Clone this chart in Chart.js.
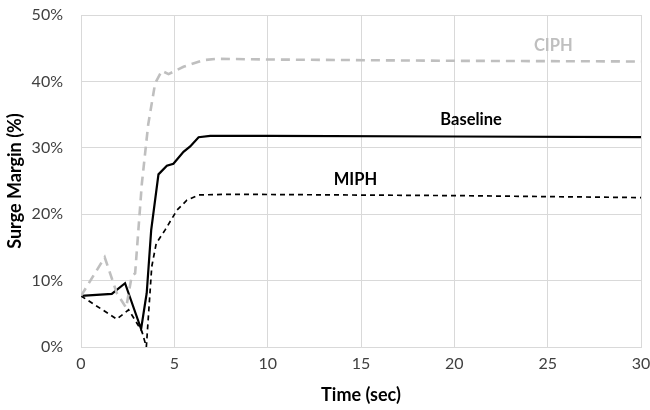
<!DOCTYPE html>
<html>
<head>
<meta charset="utf-8">
<script src="https://cdn.jsdelivr.net/npm/chart.js@4"></script>
<style>
  html, body { margin: 0; padding: 0; background: #fff; }
  #wrap { width: 650px; height: 410px; }
</style>
</head>
<body>
<div id="wrap"><canvas id="chart" width="650" height="410"></canvas></div>
<script>
// time (sec) and surge margin (%)
const baselineT = [0, 1.65, 2.36, 3.22, 3.44, 3.52, 3.76, 4.15, 4.6, 4.95, 5.49, 5.85, 6.3, 6.92, 10, 20, 30];
const baselineY = [7.7, 8.0, 9.6, 2.7, 6.7, 8.1, 17.6, 26.0, 27.3, 27.6, 29.4, 30.2, 31.6, 31.8, 31.8, 31.7, 31.6];

const ciphT = [0, 1.27, 1.92, 2.42, 2.71, 2.9, 3.26, 3.6, 3.97, 4.33, 4.69, 5.49, 6.56, 7.28, 10, 20, 30];
const ciphY = [7.7, 13.5, 8.1, 5.9, 10.6, 11.1, 24.6, 33.5, 39.7, 41.6, 41.1, 42.2, 43.2, 43.4, 43.3, 43.1, 43.0];

const miphT = [0, 1.92, 2.55, 3.26, 3.5, 3.79, 4.03, 4.5, 5.14, 5.67, 6.3, 8, 20, 30];
const miphY = [7.7, 4.2, 5.6, 2.4, 0.0, 12.1, 15.6, 17.6, 20.6, 22.1, 22.9, 23.0, 22.8, 22.5];

const yTicks = [0, 10, 20, 30, 40, 50];
const xTicks = [0, 5, 10, 15, 20, 25, 30];

const labels = [
  { text: 'CIPH', t: 25.3, v: 45.4, color: '#bfbfbf' },
  { text: 'Baseline', t: 20.9, v: 34.2, color: '#000' },
  { text: 'MIPH', t: 14.7, v: 25.2, color: '#000' },
];

const pts = (ts, ys) => ts.map((t, i) => ({ x: t, y: ys[i] }));
const FONT = 'Lato, "Liberation Sans", sans-serif';

const seriesLabels = {
  id: 'seriesLabels',
  afterDatasetsDraw(chart) {
    const { ctx, scales: { x, y } } = chart;
    ctx.save();
    ctx.font = `bold 16.5px ${FONT}`;
    ctx.textAlign = 'center';
    ctx.textBaseline = 'middle';
    labels.forEach((l) => {
      ctx.fillStyle = l.color;
      ctx.fillText(l.text, x.getPixelForValue(l.t), y.getPixelForValue(l.v));
    });
    ctx.restore();
  },
};

new Chart(document.getElementById('chart'), {
  type: 'line',
  data: {
    datasets: [
      { label: 'CIPH', data: pts(ciphT, ciphY), borderColor: '#bfbfbf', borderWidth: 2.6, borderDash: [9, 6] },
      { label: 'Baseline', data: pts(baselineT, baselineY), borderColor: '#000', borderWidth: 2.2 },
      { label: 'MIPH', data: pts(miphT, miphY), borderColor: '#000', borderWidth: 1.7, borderDash: [5, 4] },
    ],
  },
  options: {
    responsive: false,
    animation: false,
    layout: { padding: { top: 15, right: 9, left: 0, bottom: 0 } },
    elements: { point: { radius: 0 }, line: { tension: 0, fill: false } },
    plugins: { legend: { display: false }, tooltip: { enabled: false } },
    scales: {
      x: {
        type: 'linear', min: 0, max: 30,
        afterBuildTicks: (s) => { s.ticks = xTicks.map((v) => ({ value: v })); },
        afterFit: (s) => { s.height = 63; s.paddingLeft = 0; s.paddingRight = 0; },
        grid: { color: '#d9d9d9', drawTicks: false },
        border: { color: '#d9d9d9' },
        ticks: { color: '#404040', font: { family: FONT, size: 16 }, padding: 7 },
        title: { display: true, text: 'Time (sec)', color: '#000', font: { family: FONT, size: 18, weight: 'bold' }, padding: { top: 0 } },
      },
      y: {
        min: 0, max: 50,
        afterBuildTicks: (s) => { s.ticks = yTicks.map((v) => ({ value: v })); },
        afterFit: (s) => { s.width = 81; s.paddingTop = 0; s.paddingBottom = 0; },
        grid: { color: '#d9d9d9', drawTicks: false },
        border: { color: '#d9d9d9' },
        ticks: { color: '#404040', font: { family: FONT, size: 16 }, padding: 18, callback: (v) => v + '%' },
        title: { display: true, text: 'Surge Margin (%)', color: '#000', font: { family: FONT, size: 18, weight: 'bold' }, padding: { top: 4, bottom: 0 } },
      },
    },
  },
  plugins: [seriesLabels],
});
</script>
</body>
</html>
